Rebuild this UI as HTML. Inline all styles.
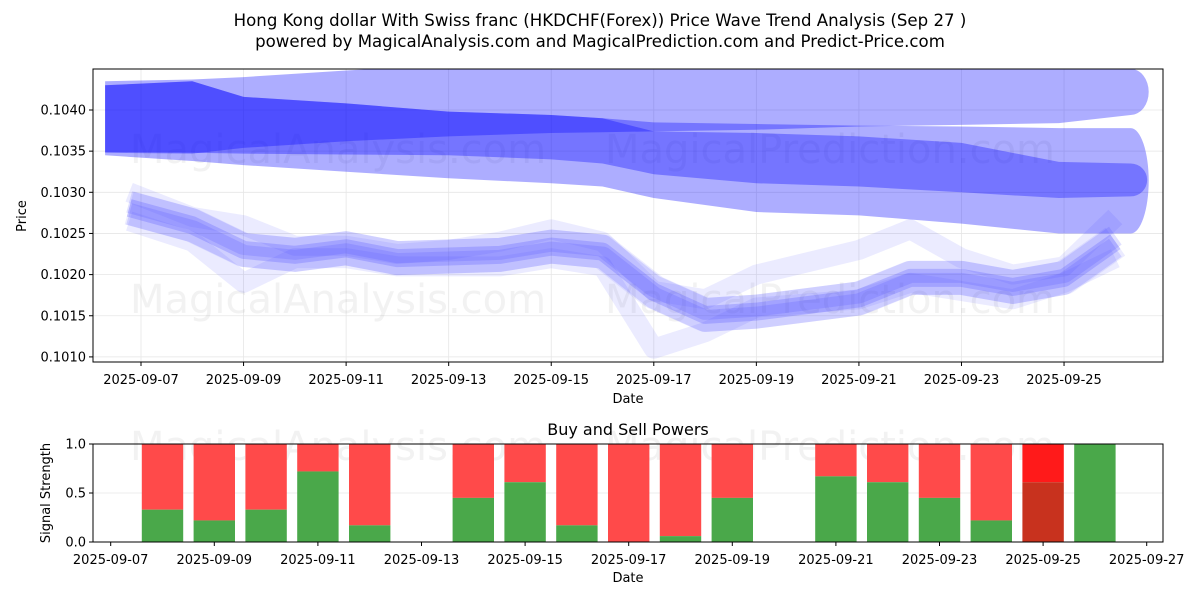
<!DOCTYPE html>
<html><head><meta charset="utf-8"><style>
body{margin:0;background:#fff;font-family:"Liberation Sans","DejaVu Sans",sans-serif}
svg text{font-family:"DejaVu Sans","Liberation Sans",sans-serif}
</style></head><body>
<svg id="c" width="1200" height="600" xmlns="http://www.w3.org/2000/svg"></svg>
<script>
// ---- data ----
const bandDates = [6.3, 8, 9, 11, 13, 15, 16, 17, 19, 21, 23, 24.9, 26.3];
const bandATop = [0.10435, 0.10437, 0.1044, 0.10448, 0.10455, 0.1046, 0.1046, 0.1046, 0.1046, 0.1046, 0.1046, 0.1046, 0.1045];
const bandABot = [0.10348, 0.10347, 0.10354, 0.10362, 0.10368, 0.10372, 0.10373, 0.10374, 0.10376, 0.1038, 0.10382, 0.10384, 0.10394];
const bandBTop = [0.10430, 0.10435, 0.10416, 0.10408, 0.10398, 0.10394, 0.1039, 0.10374, 0.10372, 0.10368, 0.1036, 0.10337, 0.10335];
const bandBBot = [0.10349, 0.10348, 0.10347, 0.10346, 0.10345, 0.1034, 0.10335, 0.10322, 0.10311, 0.10307, 0.103, 0.10293, 0.10295];
const bandCTop = [0.1043, 0.10435, 0.10416, 0.10408, 0.10398, 0.10394, 0.1039, 0.10385, 0.10383, 0.10381, 0.1038, 0.10378, 0.10378];
const bandCBot = [0.10345, 0.10338, 0.10333, 0.10325, 0.10317, 0.10311, 0.10307, 0.10293, 0.10276, 0.10272, 0.10262, 0.1025, 0.1025];
const waveDates = [6.77, 8, 9, 10, 11, 12, 13, 14, 15, 16, 17, 18, 19, 21, 22, 23, 24, 25, 26];
const waveMain = [0.10281, 0.1026, 0.1023, 0.10224, 0.10232, 0.1022, 0.10222, 0.10224, 0.10234, 0.10228, 0.10179, 0.10151, 0.10155, 0.10171, 0.10196, 0.10196, 0.10185, 0.10196, 0.1024];
const waveLow = [0.10265, 0.1024, 0.1019, 0.1022, 0.1022, 0.1021, 0.1021, 0.1021, 0.1022, 0.1021, 0.1011, 0.1013, 0.1016, 0.1017, 0.1019, 0.1018, 0.1017, 0.1019, 0.1022];
const waveHigh = [0.1030, 0.1027, 0.1026, 0.10235, 0.10235, 0.10225, 0.1023, 0.1024, 0.10255, 0.1024, 0.1018, 0.1017, 0.1020, 0.1023, 0.10255, 0.1022, 0.1020, 0.1021, 0.1027];
const yTicks = [0.1010, 0.1015, 0.1020, 0.1025, 0.1030, 0.1035, 0.1040];
const yTickLabels = ["0.1010","0.1015","0.1020","0.1025","0.1030","0.1035","0.1040"];
const xTicks = [7, 9, 11, 13, 15, 17, 19, 21, 23, 25];
const barDates = [8, 9, 10, 11, 12, 14, 15, 16, 17, 18, 19, 21, 22, 23, 24, 25, 26];
const barBuy = [0.33, 0.22, 0.33, 0.72, 0.17, 0.45, 0.61, 0.17, 0.0, 0.06, 0.45, 0.67, 0.61, 0.45, 0.22, 0.61, 1.0];
const bTicks = [7, 9, 11, 13, 15, 17, 19, 21, 23, 25, 27];
const sTicks = [0, 0.5, 1.0];

const NS = "http://www.w3.org/2000/svg";
const svg = document.getElementById('c');
function mk(tag, attrs, parent, txt){const e=document.createElementNS(NS,tag);for(const k in attrs)e.setAttribute(k,attrs[k]);if(txt!==undefined)e.textContent=txt;(parent||svg).appendChild(e);return e;}
function pad(d){return "2025-09-"+String(d).padStart(2,"0");}

const T={l:93,r:1163,t:69,b:362};
const tx=d=>141+(d-7)*51.28;
const ty=v=>110+(0.1040-v)/0.0001*8.23;
const B={l:93,r:1163,t:444,b:542};
const bx=d=>110.7+(d-7)*51.8;
const by=v=>542-v*98;

let t1=mk('text',{x:600,y:26,'text-anchor':'middle','font-size':16.6,fill:'#000'},svg,"Hong Kong dollar With Swiss franc (HKDCHF(Forex)) Price Wave Trend Analysis (Sep 27 )");


let t2=mk('text',{x:600,y:47,'text-anchor':'middle','font-size':16.6,fill:'#000'},svg,"powered by MagicalAnalysis.com and MagicalPrediction.com and Predict-Price.com");



const defs=mk('defs',{});
const cp=mk('clipPath',{id:'cl'},defs);mk('rect',{x:T.l,y:T.t,width:T.r-T.l,height:T.b-T.t},cp);

const gTop=mk('g',{});


xTicks.forEach(d=>mk('line',{x1:tx(d),x2:tx(d),y1:T.t,y2:T.b,stroke:'#e6e6e6','stroke-width':0.8},gTop));
yTicks.forEach(v=>mk('line',{x1:T.l,x2:T.r,y1:ty(v),y2:ty(v),stroke:'#e6e6e6','stroke-width':0.8},gTop));

[[130,163],[605,163],[130,313],[605,313],[130,460],[605,460]].forEach((p,i)=>{
 let w=mk('text',{x:p[0],y:p[1],'font-size':40,fill:'rgba(150,150,150,0.12)'},svg,i%2?"MagicalPrediction.com":"MagicalAnalysis.com");
 
 
});

const plot=mk('g',{'clip-path':'url(#cl)'});


function band(top,bot,name){
 let pts=bandDates.map((d,i)=>tx(d)+","+ty(top[i]));
 const n=bandDates.length-1;
 const ex=tx(bandDates[n]), rr=(ty(bot[n])-ty(top[n]))/2;
 let path="M"+pts.join(" L");
 path+=` A ${Math.min(rr,18)} ${rr} 0 0 1 ${ex} ${ty(bot[n])}`;
 for(let i=n;i>=0;i--)path+=` L${tx(bandDates[i])},${ty(bot[i])}`;
 path+="Z";
 let p=mk('path',{d:path,fill:'rgba(0,0,255,0.32)'},plot);
 
 
}
band(bandATop,bandABot,'upper-band-a');
band(bandBTop,bandBBot,'upper-band-b');
band(bandCTop,bandCBot,'upper-band-c');

function wave(arr,w,a,name,off){
 let p=mk('polyline',{points:waveDates.map((d,i)=>tx(d)+","+(ty(arr[i])+(off||0))).join(" "),fill:'none',stroke:`rgba(60,60,255,${a})`,'stroke-width':w,'stroke-linejoin':'round','stroke-linecap':'butt'},plot);
 
 
}
wave(waveLow,20,0.10,'wave-low');
wave(waveHigh,20,0.10,'wave-high');
wave(waveMain,34,0.10,'wave-envelope');
wave(waveMain,22,0.16,'wave-mid',6);
wave(waveMain,22,0.16,'wave-mid-2',-6);
wave(waveMain,18,0.22,'wave-main');

let f1=mk('rect',{x:T.l,y:T.t,width:T.r-T.l,height:T.b-T.t,fill:'none',stroke:'#000','stroke-width':1});


xTicks.forEach(d=>{mk('line',{x1:tx(d),x2:tx(d),y1:T.b,y2:T.b+4,stroke:'#000'});
 let l=mk('text',{x:tx(d),y:T.b+22,'text-anchor':'middle','font-size':13},svg,pad(d));
 
 });
yTicks.forEach((v,i)=>{mk('line',{x1:T.l-4,x2:T.l,y1:ty(v),y2:ty(v),stroke:'#000'});
 let l=mk('text',{x:T.l-7,y:ty(v)+4.5,'text-anchor':'end','font-size':13},svg,yTickLabels[i]);
 
 });
let xl=mk('text',{x:628,y:403,'text-anchor':'middle','font-size':13},svg,"Date");


let yl=mk('text',{x:26,y:216,'text-anchor':'middle','font-size':13,transform:'rotate(-90 26 216)'},svg,"Price");



let bt=mk('text',{x:628,y:435,'text-anchor':'middle','font-size':16},svg,"Buy and Sell Powers");


sTicks.forEach(v=>mk('line',{x1:B.l,x2:B.r,y1:by(v),y2:by(v),stroke:'#e6e6e6','stroke-width':0.8}));
barDates.forEach((d,i)=>{
 const x=bx(d)-20.7,w=41.4,last=d===25;
 let r=mk('rect',{x:x,y:by(1),width:w,height:by(barBuy[i])-by(1),fill:last?'#ff1a1a':'#ff4a4a'});
 
 
 let g=mk('rect',{x:x,y:by(barBuy[i]),width:w,height:by(0)-by(barBuy[i]),fill:last?'#c8321e':'#4aa84a'});
 
 
});
let f2=mk('rect',{x:B.l,y:B.t,width:B.r-B.l,height:B.b-B.t,fill:'none',stroke:'#000','stroke-width':1});


bTicks.forEach(d=>{mk('line',{x1:bx(d),x2:bx(d),y1:B.b,y2:B.b+4,stroke:'#000'});
 let l=mk('text',{x:bx(d),y:B.b+22,'text-anchor':'middle','font-size':13},svg,pad(d));
 
 });
sTicks.forEach(v=>{mk('line',{x1:B.l-4,x2:B.l,y1:by(v),y2:by(v),stroke:'#000'});
 let l=mk('text',{x:B.l-7,y:by(v)+4.5,'text-anchor':'end','font-size':13},svg,v.toFixed(1));
 
 });
let bxl=mk('text',{x:628,y:582,'text-anchor':'middle','font-size':13},svg,"Date");


let byl=mk('text',{x:50,y:493,'text-anchor':'middle','font-size':13,transform:'rotate(-90 50 493)'},svg,"Signal Strength");


</script>
</body></html>
